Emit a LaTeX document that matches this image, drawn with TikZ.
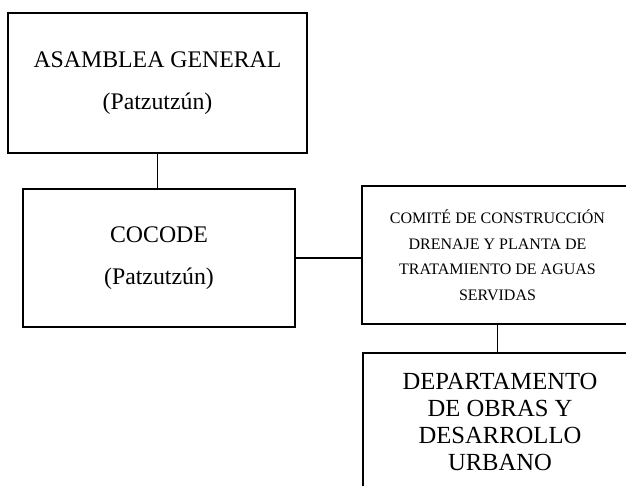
\documentclass[tikz,border=0pt]{standalone}
\usepackage{fontspec}
\setmainfont{Liberation Serif}
\begin{document}
\begin{tikzpicture}[x=1pt,y=-1pt,
  caja/.style={draw,line width=1.2pt,align=center,inner sep=0pt},
  grande/.style={font={\fontsize{23.8}{42}\selectfont}},
  chica/.style={font={\fontsize{16}{25.5}\selectfont}},
  enlace/.style={line width=1.2pt}]
\useasboundingbox (0,0) rectangle (626,485);
\clip (0,0) rectangle (626,485);
\node [caja,grande,minimum width=299pt,minimum height=140pt] (asamblea) at (157.5,83) {ASAMBLEA GENERAL\\(Patzutzún)};
\node [caja,grande,minimum width=272pt,minimum height=138pt] (cocode) at (159,258) {COCODE\\(Patzutzún)};
\node [caja,chica,minimum width=271pt,minimum height=138pt] (comite) at (497.5,255) {COMITÉ DE CONSTRUCCIÓN\\DRENAJE Y PLANTA DE\\TRATAMIENTO DE AGUAS\\SERVIDAS};
\node [caja,font={\fontsize{24.6}{26.8}\selectfont},minimum width=274pt,minimum height=138pt] (depto) at (500,422) {DEPARTAMENTO\\DE OBRAS Y\\DESARROLLO\\URBANO};
\draw [enlace] (asamblea.south) -- (asamblea.south |- cocode.north);
\draw [enlace] (cocode.east) -- (cocode.east -| comite.west);
\draw [enlace] (comite.south) -- (comite.south |- depto.north);
\end{tikzpicture}
\end{document}
